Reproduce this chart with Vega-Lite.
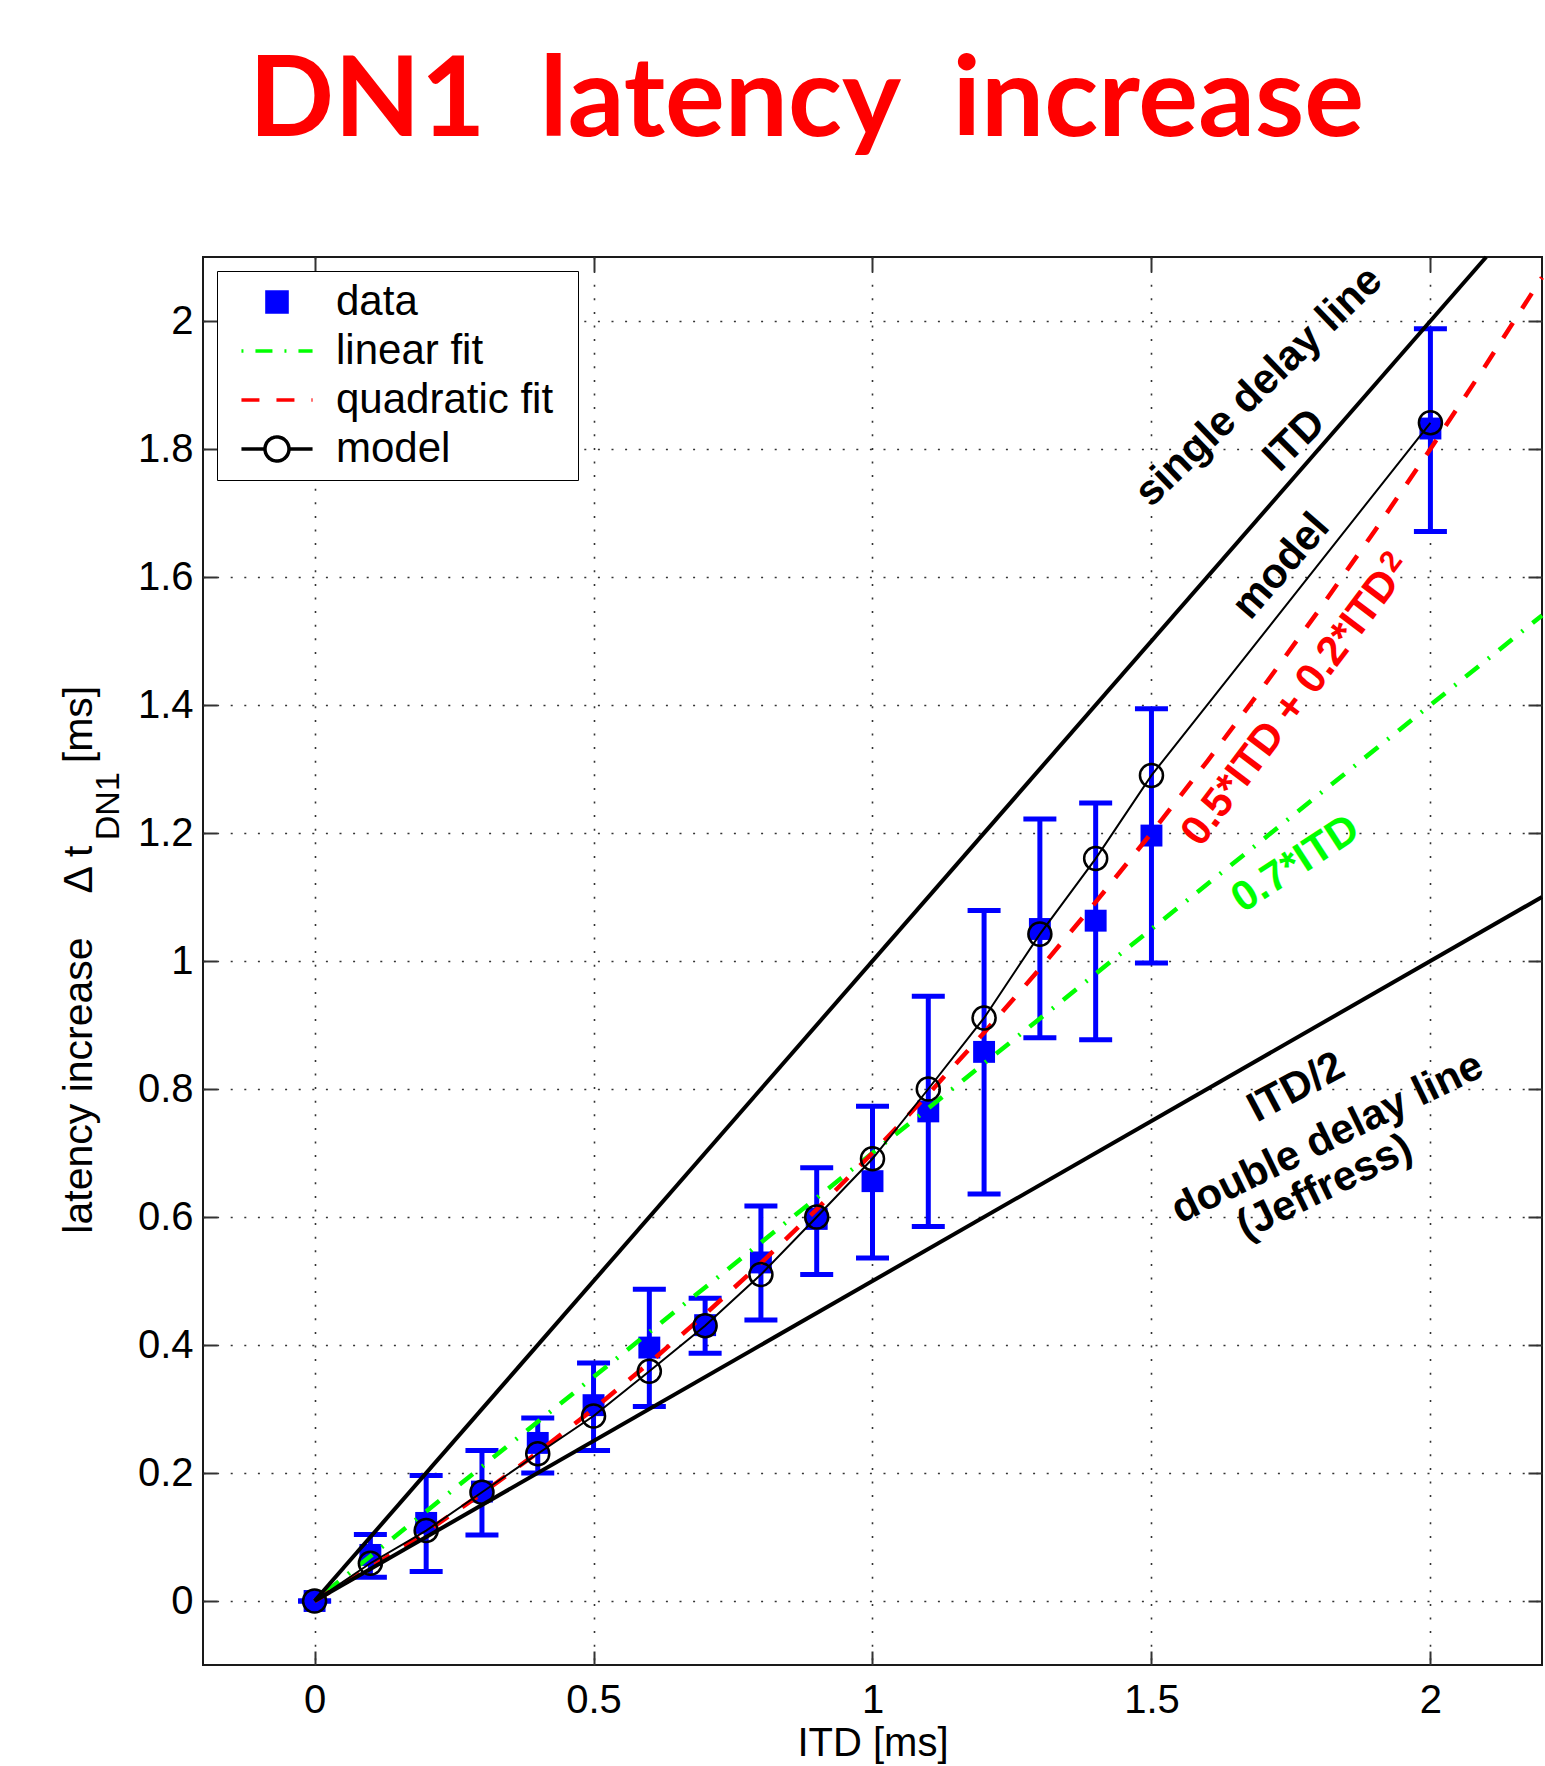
{
  "$schema": "https://vega.github.io/schema/vega-lite/v6.json",
  "autosize": {"type": "none"},
  "padding": {"left": 203, "top": 257, "right": 3, "bottom": 101},
  "width": 1339,
  "height": 1408,
  "background": "white",
  "title": {"text": "DN1 \u00a0latency \u00a0increase", "font": "Lato", "fontSize": 112, "fontWeight": "bold", "color": "#ff0000", "anchor": "middle", "frame": "group", "dx": -66, "offset": 89},
  "config": {
    "view": {"stroke": "#1a1a1a", "strokeWidth": 2},
    "font": "Liberation Sans",
    "axis": {"domain": false, "grid": true, "gridColor": "#333333", "gridDash": [2, 11.6], "gridWidth": 1.6, "gridOpacity": 1, "ticks": true, "tickSize": -14, "tickWidth": 2, "tickColor": "#333333", "labelFont": "Liberation Sans", "labelFontSize": 40, "labelColor": "#000000", "labelPadding": 29, "titleFont": "Liberation Sans", "titleFontSize": 40, "titleFontWeight": "normal", "titleColor": "#000000", "titlePadding": 3},
    "axisY": {"labelPadding": 24}
  },
  "datasets": {
    "measured": [
      {"itd": 0, "lat": 0, "lo": 0, "hi": 0, "model": 0},
      {"itd": 0.1, "lat": 0.072, "lo": 0.037, "hi": 0.104, "model": 0.059},
      {"itd": 0.2, "lat": 0.122, "lo": 0.046, "hi": 0.196, "model": 0.110},
      {"itd": 0.3, "lat": 0.171, "lo": 0.103, "hi": 0.235, "model": 0.170},
      {"itd": 0.4, "lat": 0.247, "lo": 0.200, "hi": 0.286, "model": 0.230},
      {"itd": 0.5, "lat": 0.306, "lo": 0.235, "hi": 0.372, "model": 0.289},
      {"itd": 0.6, "lat": 0.396, "lo": 0.304, "hi": 0.487, "model": 0.359},
      {"itd": 0.7, "lat": 0.431, "lo": 0.387, "hi": 0.473, "model": 0.430},
      {"itd": 0.8, "lat": 0.529, "lo": 0.439, "hi": 0.617, "model": 0.510},
      {"itd": 0.9, "lat": 0.597, "lo": 0.510, "hi": 0.677, "model": 0.600},
      {"itd": 1.0, "lat": 0.656, "lo": 0.536, "hi": 0.773, "model": 0.691},
      {"itd": 1.1, "lat": 0.765, "lo": 0.585, "hi": 0.945, "model": 0.800},
      {"itd": 1.2, "lat": 0.858, "lo": 0.636, "hi": 1.079, "model": 0.911},
      {"itd": 1.3, "lat": 1.050, "lo": 0.880, "hi": 1.222, "model": 1.042},
      {"itd": 1.4, "lat": 1.063, "lo": 0.877, "hi": 1.247, "model": 1.160},
      {"itd": 1.5, "lat": 1.196, "lo": 0.997, "hi": 1.394, "model": 1.290},
      {"itd": 2.0, "lat": 1.832, "lo": 1.671, "hi": 1.988, "model": 1.841}
    ],
    "single": [{"itd": 0, "val": 0}, {"itd": 2.1, "val": 2.1}],
    "double": [{"itd": 0, "val": 0}, {"itd": 2.2, "val": 1.1}],
    "linfit": [{"itd": 0, "val": 0}, {"itd": 2.2, "val": 1.54}],
    "quadfit": [
      {"itd": 0, "val": 0}, {"itd": 0.1, "val": 0.052}, {"itd": 0.2, "val": 0.108}, {"itd": 0.3, "val": 0.168},
      {"itd": 0.4, "val": 0.232}, {"itd": 0.5, "val": 0.3}, {"itd": 0.6, "val": 0.372}, {"itd": 0.7, "val": 0.448},
      {"itd": 0.8, "val": 0.528}, {"itd": 0.9, "val": 0.612}, {"itd": 1.0, "val": 0.7}, {"itd": 1.1, "val": 0.792},
      {"itd": 1.2, "val": 0.888}, {"itd": 1.3, "val": 0.988}, {"itd": 1.4, "val": 1.092}, {"itd": 1.5, "val": 1.2},
      {"itd": 1.6, "val": 1.312}, {"itd": 1.7, "val": 1.428}, {"itd": 1.8, "val": 1.548}, {"itd": 1.9, "val": 1.672},
      {"itd": 2.0, "val": 1.8}, {"itd": 2.1, "val": 1.932}, {"itd": 2.2, "val": 2.068}
    ],
    "legendItems": []
  },
  "layer": [
    {
      "layer": [
        {
          "data": {"name": "measured"},
          "mark": {"type": "rule", "color": "#0000ff", "strokeWidth": 5},
          "encoding": {
            "x": {"field": "itd", "type": "quantitative", "scale": {"domain": [-0.2, 2.2], "nice": false, "zero": false}, "axis": {"values": [0, 0.5, 1, 1.5, 2], "format": "~g", "title": "ITD [ms]"}},
            "y": {"field": "lo", "type": "quantitative", "scale": {"domain": [-0.1, 2.1], "nice": false, "zero": false}, "axis": {"values": [0, 0.2, 0.4, 0.6, 0.8, 1, 1.2, 1.4, 1.6, 1.8, 2], "format": "~g", "title": null}},
            "y2": {"field": "hi"}
          }
        },
        {
          "data": {"name": "measured"},
          "mark": {"type": "tick", "orient": "horizontal", "size": 33, "thickness": 5, "color": "#0000ff", "opacity": 1},
          "encoding": {
            "x": {"field": "itd", "type": "quantitative", "title": "ITD [ms]"},
            "y": {"field": "lo", "type": "quantitative", "title": null}
          }
        },
        {
          "data": {"name": "measured"},
          "mark": {"type": "tick", "orient": "horizontal", "size": 33, "thickness": 5, "color": "#0000ff", "opacity": 1},
          "encoding": {
            "x": {"field": "itd", "type": "quantitative", "title": "ITD [ms]"},
            "y": {"field": "hi", "type": "quantitative", "title": null}
          }
        },
        {
          "data": {"name": "measured"},
          "mark": {"type": "point", "shape": "square", "filled": true, "size": 480, "color": "#0000ff", "opacity": 1},
          "encoding": {
            "x": {"field": "itd", "type": "quantitative", "title": "ITD [ms]"},
            "y": {"field": "lat", "type": "quantitative", "title": null}
          }
        },
        {
          "data": {"name": "linfit"},
          "mark": {"type": "line", "color": "#00ff00", "strokeWidth": 4.5, "strokeDash": [2, 12, 17, 12]},
          "encoding": {
            "x": {"field": "itd", "type": "quantitative", "title": "ITD [ms]"},
            "y": {"field": "val", "type": "quantitative", "title": null}
          }
        },
        {
          "data": {"name": "quadfit"},
          "mark": {"type": "line", "color": "#ff0000", "strokeWidth": 4.5, "strokeDash": [18, 17]},
          "encoding": {
            "x": {"field": "itd", "type": "quantitative", "title": "ITD [ms]"},
            "y": {"field": "val", "type": "quantitative", "title": null}
          }
        },
        {
          "data": {"name": "measured"},
          "mark": {"type": "line", "color": "#000000", "strokeWidth": 2},
          "encoding": {
            "x": {"field": "itd", "type": "quantitative", "title": "ITD [ms]"},
            "y": {"field": "model", "type": "quantitative", "title": null}
          }
        },
        {
          "data": {"name": "measured"},
          "mark": {"type": "point", "shape": "circle", "filled": false, "size": 530, "stroke": "#000000", "strokeWidth": 2.5, "opacity": 1},
          "encoding": {
            "x": {"field": "itd", "type": "quantitative", "title": "ITD [ms]"},
            "y": {"field": "model", "type": "quantitative", "title": null}
          }
        },
        {
          "data": {"name": "single"},
          "mark": {"type": "line", "color": "#000000", "strokeWidth": 4},
          "encoding": {
            "x": {"field": "itd", "type": "quantitative", "title": "ITD [ms]"},
            "y": {"field": "val", "type": "quantitative", "title": null}
          }
        },
        {
          "data": {"name": "double"},
          "mark": {"type": "line", "color": "#000000", "strokeWidth": 4},
          "encoding": {
            "x": {"field": "itd", "type": "quantitative", "title": "ITD [ms]"},
            "y": {"field": "val", "type": "quantitative", "title": null}
          }
        },
        {
          "data": {"values": [{}]},
          "mark": {"type": "text", "text": "single delay line", "font": "Liberation Sans", "fontWeight": "bold", "fontSize": 42, "angle": 316, "align": "center", "baseline": "middle", "color": "#000000"},
          "encoding": {"x": {"datum": 1.692, "type": "quantitative"}, "y": {"datum": 1.898, "type": "quantitative"}}
        },
        {
          "data": {"values": [{}]},
          "mark": {"type": "text", "text": "ITD", "font": "Liberation Sans", "fontWeight": "bold", "fontSize": 42, "angle": 315, "align": "center", "baseline": "middle", "color": "#000000"},
          "encoding": {"x": {"datum": 1.756, "type": "quantitative"}, "y": {"datum": 1.814, "type": "quantitative"}}
        },
        {
          "data": {"values": [{}]},
          "mark": {"type": "text", "text": "model", "font": "Liberation Sans", "fontWeight": "bold", "fontSize": 42, "angle": 311, "align": "center", "baseline": "middle", "color": "#000000"},
          "encoding": {"x": {"datum": 1.732, "type": "quantitative"}, "y": {"datum": 1.617, "type": "quantitative"}}
        },
        {
          "data": {"values": [{}]},
          "mark": {"type": "text", "text": "0.5*ITD + 0.2*ITD", "font": "Liberation Sans", "fontWeight": "bold", "fontSize": 42, "angle": 307, "align": "center", "baseline": "middle", "color": "#ff0000"},
          "encoding": {"x": {"datum": 1.749, "type": "quantitative"}, "y": {"datum": 1.396, "type": "quantitative"}}
        },
        {
          "data": {"values": [{}]},
          "mark": {"type": "text", "text": "2", "font": "Liberation Sans", "fontWeight": "bold", "fontSize": 30, "angle": 307, "align": "center", "baseline": "middle", "color": "#ff0000"},
          "encoding": {"x": {"datum": 1.93, "type": "quantitative"}, "y": {"datum": 1.624, "type": "quantitative"}}
        },
        {
          "data": {"values": [{}]},
          "mark": {"type": "text", "text": "0.7*ITD", "font": "Liberation Sans", "fontWeight": "bold", "fontSize": 42, "angle": 327, "align": "center", "baseline": "middle", "color": "#00ff00"},
          "encoding": {"x": {"datum": 1.758, "type": "quantitative"}, "y": {"datum": 1.152, "type": "quantitative"}}
        },
        {
          "data": {"values": [{}]},
          "mark": {"type": "text", "text": "ITD/2", "font": "Liberation Sans", "fontWeight": "bold", "fontSize": 42, "angle": 332, "align": "center", "baseline": "middle", "color": "#000000"},
          "encoding": {"x": {"datum": 1.759, "type": "quantitative"}, "y": {"datum": 0.803, "type": "quantitative"}}
        },
        {
          "data": {"values": [{}]},
          "mark": {"type": "text", "text": "double delay line", "font": "Liberation Sans", "fontWeight": "bold", "fontSize": 42, "angle": 334, "align": "center", "baseline": "middle", "color": "#000000"},
          "encoding": {"x": {"datum": 1.815, "type": "quantitative"}, "y": {"datum": 0.724, "type": "quantitative"}}
        },
        {
          "data": {"values": [{}]},
          "mark": {"type": "text", "text": "(Jeffress)", "font": "Liberation Sans", "fontWeight": "bold", "fontSize": 42, "angle": 334, "align": "center", "baseline": "middle", "color": "#000000"},
          "encoding": {"x": {"datum": 1.81, "type": "quantitative"}, "y": {"datum": 0.647, "type": "quantitative"}}
        },
        {
          "data": {"values": [{}]},
          "mark": {"type": "text", "text": "latency increase", "font": "Liberation Sans", "fontSize": 41, "angle": 270, "align": "left", "baseline": "alphabetic", "color": "#000000"},
          "encoding": {"x": {"datum": -0.399, "type": "quantitative"}, "y": {"datum": 0.574, "type": "quantitative"}}
        },
        {
          "data": {"values": [{}]},
          "mark": {"type": "text", "text": "Δ t", "font": "Liberation Sans", "fontSize": 41, "angle": 270, "align": "left", "baseline": "alphabetic", "color": "#000000"},
          "encoding": {"x": {"datum": -0.399, "type": "quantitative"}, "y": {"datum": 1.1055, "type": "quantitative"}}
        },
        {
          "data": {"values": [{}]},
          "mark": {"type": "text", "text": "DN1", "font": "Liberation Sans", "fontSize": 34, "angle": 270, "align": "left", "baseline": "alphabetic", "color": "#000000"},
          "encoding": {"x": {"datum": -0.35, "type": "quantitative"}, "y": {"datum": 1.1887, "type": "quantitative"}}
        },
        {
          "data": {"values": [{}]},
          "mark": {"type": "text", "text": "[ms]", "font": "Liberation Sans", "fontSize": 41, "angle": 270, "align": "left", "baseline": "alphabetic", "color": "#000000"},
          "encoding": {"x": {"datum": -0.399, "type": "quantitative"}, "y": {"datum": 1.309, "type": "quantitative"}}
        },
        {
          "data": {"name": "legendItems"},
          "mark": {"type": "point", "size": 900, "strokeWidth": 3.5, "opacity": 1},
          "encoding": {
            "x": {"field": "itd", "type": "quantitative", "title": "ITD [ms]"},
            "y": {"field": "val", "type": "quantitative", "title": null},
            "shape": {"field": "series", "type": "nominal", "scale": {"domain": ["data", "linear fit", "quadratic fit", "model"], "range": ["M-0.67,-0.67H0.67V0.67H-0.67Z", "M-2.37,0H2.37", "M-2.37,0H2.37", "M-2.37,0H-0.8M0.8,0H2.37M-0.8,0A0.8,0.8 0 1,1 0.8,0A0.8,0.8 0 1,1 -0.8,0"]},
              "legend": {"title": ".", "titleOrient": "right", "titleColor": "#ffffff", "titleFontSize": 10, "titlePadding": 12, "orient": "none", "legendX": 14, "legendY": 14, "labelFont": "Liberation Sans", "labelFontSize": 42, "labelColor": "#000000", "labelLimit": 500, "strokeColor": "#000000", "fillColor": "#ffffff", "padding": 10, "symbolSize": 900, "symbolStrokeWidth": 3.5, "symbolOffset": 29, "labelOffset": 38, "rowPadding": 7, "cornerRadius": 0}},
            "stroke": {"field": "series", "type": "nominal", "scale": {"domain": ["data", "linear fit", "quadratic fit", "model"], "range": ["#0000ff", "#00ff00", "#ff0000", "#000000"]}},
            "fill": {"field": "series", "type": "nominal", "scale": {"domain": ["data", "linear fit", "quadratic fit", "model"], "range": ["#0000ff", "transparent", "transparent", "#ffffff"]}},
            "strokeDash": {"field": "series", "type": "nominal", "scale": {"domain": ["data", "linear fit", "quadratic fit", "model"], "range": [[1, 0], [2, 12, 17, 12], [18, 17], [1, 0]]}}
          }
        }
      ]
    },
    {
      "data": {"values": [{"itd": 0, "val": 0}]},
      "mark": {"type": "point", "opacity": 0},
      "encoding": {
        "x": {"field": "itd", "type": "quantitative", "scale": {"domain": [-0.2, 2.2], "nice": false, "zero": false}, "axis": {"orient": "top", "values": [0, 0.5, 1, 1.5, 2], "labels": false, "grid": false, "title": null}},
        "y": {"field": "val", "type": "quantitative", "scale": {"domain": [-0.1, 2.1], "nice": false, "zero": false}, "axis": {"orient": "right", "values": [0, 0.2, 0.4, 0.6, 0.8, 1, 1.2, 1.4, 1.6, 1.8, 2], "labels": false, "grid": false, "title": null}}
      }
    }
  ],
  "resolve": {"axis": {"x": "independent", "y": "independent"}}
}
